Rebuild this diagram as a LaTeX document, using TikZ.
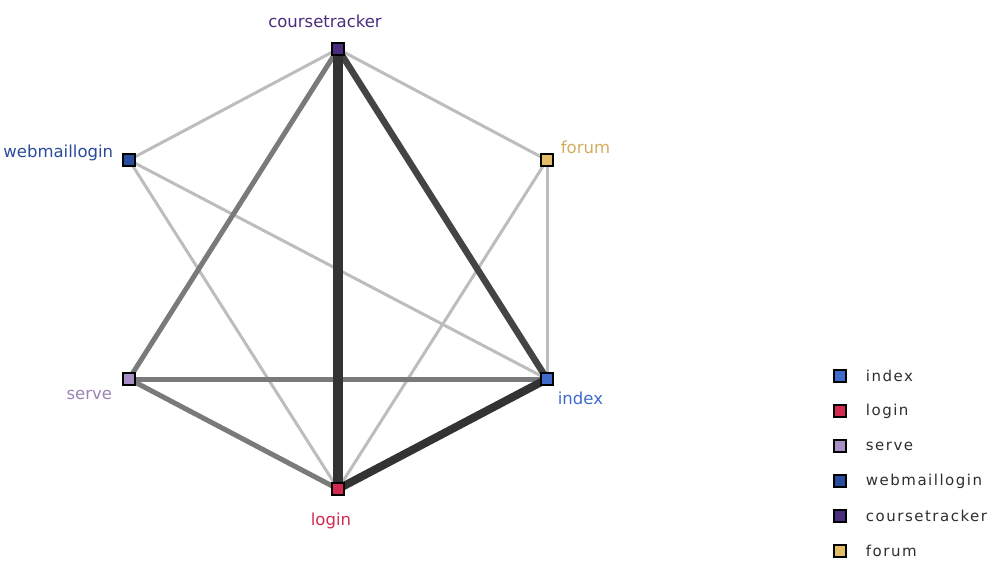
\documentclass[tikz,border=0pt]{standalone}
\usepackage{fontspec}
\setmainfont{DejaVu Sans}
\usetikzlibrary{positioning}
\usetikzlibrary{backgrounds}
\definecolor{indexc}{HTML}{3E6BC9}
\definecolor{loginc}{HTML}{D22B4F}
\definecolor{servec}{HTML}{A68FC4}
\definecolor{webmailc}{HTML}{2A4C9C}
\definecolor{trackerc}{HTML}{4A2D7E}
\definecolor{forumc}{HTML}{E3BD66}
\definecolor{edgelight}{HTML}{BDBDBD}
\definecolor{edgemid}{HTML}{7A7A7A}
\definecolor{edgedark}{HTML}{444444}
\definecolor{edgedarkest}{HTML}{333333}
\definecolor{legendtext}{HTML}{2E2E2E}
\tikzset{
  vertex/.style={draw=black, line width=1.4pt, minimum size=12pt, inner sep=0pt},
  lbl/.style={inner sep=0pt, font=\fontsize{16.5}{18}\selectfont},
  keybox/.style={draw=black, line width=1.4pt, minimum size=12pt, inner sep=0pt},
  keytext/.style={inner sep=0pt, anchor=west, text=legendtext,
    font=\fontsize{15}{17}\selectfont\addfontfeature{LetterSpace=10}},
  weak/.style={edgelight, line width=3pt},
  medium/.style={edgemid, line width=5pt},
  strong/.style={edgedark, line width=6.5pt},
  stronger/.style={edgedarkest, line width=8pt},
  strongest/.style={edgedarkest, line width=10pt}
}

\begin{document}
\begin{tikzpicture}[x=1pt, y=-1pt]
    \useasboundingbox (0,0) rectangle (995,560);
    % nodes
    \node[vertex, fill=trackerc] (coursetracker) at (338, 49) {};
    \node[vertex, fill=webmailc] (webmaillogin) at (129, 160) {};
    \node[vertex, fill=forumc] (forum) at (547, 160) {};
    \node[vertex, fill=servec] (serve) at (129, 379) {};
    \node[vertex, fill=indexc] (index) at (547, 379) {};
    \node[vertex, fill=loginc] (login) at (338, 489) {};
    % labels
    \node[lbl, text=trackerc, above=14pt of coursetracker, xshift=-13pt] (lbl-coursetracker) {coursetracker};
    \node[lbl, text=webmailc, left=9pt of webmaillogin, yshift=7pt] (lbl-webmaillogin) {webmaillogin};
    \node[lbl, text=forumc!92!black, right=7pt of forum, yshift=13pt] (lbl-forum) {forum};
    \node[lbl, text=servec!92!black, left=10pt of serve, yshift=-16pt] (lbl-serve) {serve};
    \node[lbl, text=indexc, right=4pt of index, yshift=-19pt] (lbl-index) {index};
    \node[lbl, text=loginc, below=17pt of login, xshift=-7pt] (lbl-login) {login};
    % edges
    \begin{scope}[on background layer]
        \draw[weak] (coursetracker.center) -- (webmaillogin.center);
        \draw[weak] (coursetracker.center) -- (forum.center);
        \draw[weak] (webmaillogin.center) -- (index.center);
        \draw[weak] (webmaillogin.center) -- (login.center);
        \draw[weak] (forum.center) -- (index.center);
        \draw[weak] (forum.center) -- (login.center);
        \draw[medium] (coursetracker.center) -- (serve.center);
        \draw[medium] (serve.center) -- (index.center);
        \draw[medium] (serve.center) -- (login.center);
        \draw[strong] (coursetracker.center) -- (index.center);
        \draw[stronger] (index.center) -- (login.center);
        \draw[strongest] (coursetracker.center) -- (login.center);
    \end{scope}
    % legend
    \node[keybox, fill=indexc] (key-index) at (840, 376) {};
    \node[keybox, fill=loginc] (key-login) at (840, 411) {};
    \node[keybox, fill=servec] (key-serve) at (840, 446) {};
    \node[keybox, fill=webmailc] (key-webmaillogin) at (840, 481) {};
    \node[keybox, fill=trackerc] (key-coursetracker) at (840, 516) {};
    \node[keybox, fill=forumc] (key-forum) at (840, 551) {};
    \node[keytext, right=19pt of key-index] (txt-index) {index};
    \node[keytext, right=19pt of key-login] (txt-login) {login};
    \node[keytext, right=19pt of key-serve] (txt-serve) {serve};
    \node[keytext, right=19pt of key-webmaillogin] (txt-webmaillogin) {webmaillogin};
    \node[keytext, right=19pt of key-coursetracker] (txt-coursetracker) {coursetracker};
    \node[keytext, right=19pt of key-forum] (txt-forum) {forum};
\end{tikzpicture}
\end{document}
